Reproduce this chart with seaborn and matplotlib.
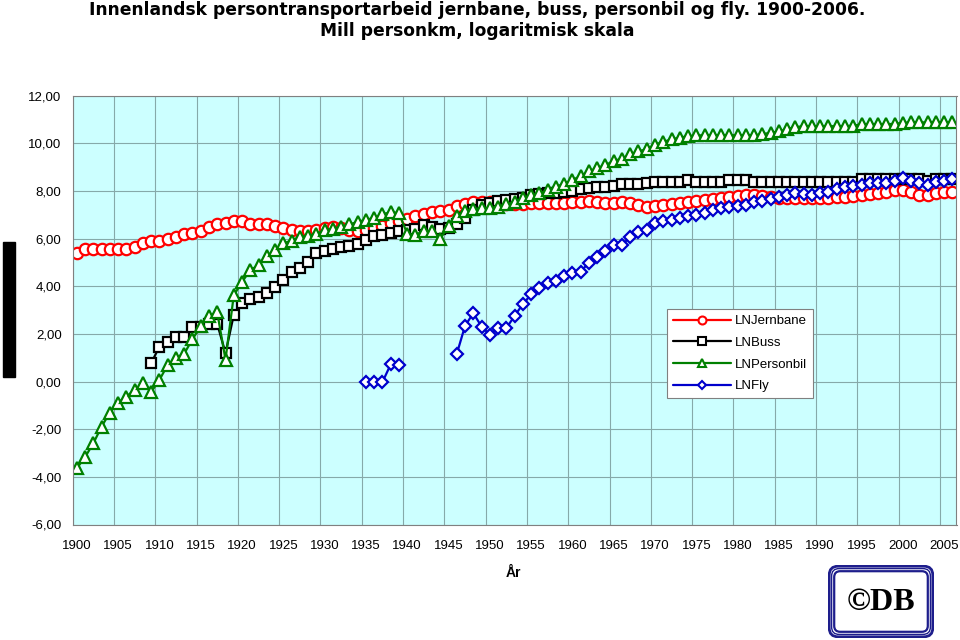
import numpy as np
import pandas as pd
import matplotlib
matplotlib.use("Agg")
import matplotlib.pyplot as plt
import seaborn as sns
from matplotlib.lines import Line2D
from matplotlib.patches import Rectangle, FancyBboxPatch

# ---------------- data (natural log of million passenger-km) ----------------
years = list(range(1900, 2007))

jernbane = [
    5.39, 5.56, 5.56, 5.56, 5.56, 5.56, 5.58, 5.66, 5.83, 5.89,   # 1900-1909
    5.90, 5.97, 6.08, 6.18, 6.25, 6.34, 6.50, 6.62, 6.64, 6.72,   # 1910-1919
    6.72, 6.63, 6.62, 6.62, 6.52, 6.45, 6.36, 6.34, 6.30, 6.36,   # 1920-1929
    6.44, 6.48, 6.45, 6.38, 6.33, 6.37, 6.45, 6.55, 6.64, 6.72,   # 1930-1939
    6.82, 6.95, 7.05, 7.10, 7.15, 7.22, 7.37, 7.45, 7.52, 7.55,   # 1940-1949
    7.52, 7.48, 7.45, 7.45, 7.47, 7.49, 7.49, 7.49, 7.49, 7.50,   # 1950-1959
    7.52, 7.55, 7.58, 7.55, 7.48, 7.50, 7.55, 7.48, 7.41, 7.34,   # 1960-1969
    7.37, 7.41, 7.45, 7.49, 7.53, 7.58, 7.62, 7.65, 7.70, 7.76,   # 1970-1979
    7.79, 7.83, 7.83, 7.79, 7.74, 7.72, 7.70, 7.70, 7.69, 7.69,   # 1980-1989
    7.69, 7.70, 7.74, 7.76, 7.80, 7.83, 7.87, 7.92, 7.97, 8.04,   # 1990-1999
    8.04, 7.97, 7.85, 7.83, 7.90, 7.97, 7.97,                     # 2000-2006
]

buss = [None] * 9 + [
    0.77,                                                         # 1909
    1.47, 1.66, 1.86, 1.86, 2.28, 2.29, 2.42, 2.42, 1.19, 2.80,   # 1910-1919
    3.30, 3.46, 3.57, 3.73, 3.99, 4.27, 4.60, 4.78, 5.04, 5.40,   # 1920-1929
    5.50, 5.56, 5.65, 5.68, 5.76, 5.95, 6.09, 6.16, 6.25, 6.32,   # 1930-1939
    6.35, 6.40, 6.58, 6.50, 6.40, 6.45, 6.60, 6.86, 7.20, 7.40,   # 1940-1949
    7.49, 7.60, 7.62, 7.65, 7.72, 7.85, 7.88, 7.90, 7.90, 7.95,   # 1950-1959
    8.00, 8.08, 8.11, 8.15, 8.18, 8.22, 8.28, 8.28, 8.28, 8.33,   # 1960-1969
    8.37, 8.37, 8.37, 8.37, 8.45, 8.37, 8.37, 8.37, 8.37, 8.47,   # 1970-1979
    8.47, 8.45, 8.37, 8.37, 8.37, 8.37, 8.37, 8.37, 8.37, 8.37,   # 1980-1989
    8.37, 8.37, 8.37, 8.37, 8.37, 8.50, 8.50, 8.50, 8.50, 8.50,   # 1990-1999
    8.50, 8.50, 8.50, 8.40, 8.50, 8.50, 8.50,                     # 2000-2006
]

personbil = [
    -3.64, -3.17, -2.59, -1.89, -1.30, -0.88, -0.63, -0.35, -0.08, -0.44,  # 1900-1909
    0.07, 0.70, 1.00, 1.17, 1.78, 2.32, 2.76, 2.90, 0.92, 3.62,            # 1910-1919
    4.18, 4.68, 4.88, 5.26, 5.52, 5.80, 5.92, 6.07, 6.12, 6.20,            # 1920-1929
    6.36, 6.42, 6.50, 6.60, 6.70, 6.80, 6.86, 7.03, 7.10, 7.08,            # 1930-1939
    6.20, 6.16, 6.32, 6.32, 6.00, 6.51, 6.97, 7.17, 7.24, 7.28,            # 1940-1949
    7.28, 7.34, 7.45, 7.55, 7.69, 7.83, 7.90, 8.04, 8.18, 8.30,            # 1950-1959
    8.47, 8.62, 8.82, 8.97, 9.08, 9.27, 9.35, 9.54, 9.67, 9.75,            # 1960-1969
    9.95, 10.06, 10.17, 10.24, 10.30, 10.33, 10.34, 10.34, 10.34, 10.34,   # 1970-1979
    10.34, 10.34, 10.34, 10.38, 10.45, 10.50, 10.60, 10.68, 10.72, 10.72,  # 1980-1989
    10.72, 10.72, 10.72, 10.72, 10.74, 10.80, 10.80, 10.80, 10.80, 10.82,  # 1990-1999
    10.86, 10.88, 10.88, 10.88, 10.88, 10.88, 10.88,                       # 2000-2006
]

fly = [None] * 35 + [
    0.00, 0.00, -0.02, 0.72, 0.70,                                # 1935-1939
] + [None] * 6 + [
    1.16, 2.34, 2.87, 2.31,                                       # 1946-1949
    1.96, 2.26, 2.24, 2.76, 3.25, 3.66, 3.92, 4.13, 4.22, 4.44,   # 1950-1959
    4.56, 4.62, 4.99, 5.25, 5.46, 5.74, 5.74, 6.07, 6.27, 6.38,   # 1960-1969
    6.65, 6.75, 6.80, 6.87, 6.93, 7.00, 7.07, 7.20, 7.28, 7.34,   # 1970-1979
    7.37, 7.41, 7.52, 7.60, 7.67, 7.75, 7.83, 7.90, 7.87, 7.85,   # 1980-1989
    7.90, 7.97, 8.07, 8.16, 8.21, 8.25, 8.32, 8.35, 8.35, 8.44,   # 1990-1999
    8.53, 8.44, 8.32, 8.25, 8.39, 8.44, 8.49,                     # 2000-2006
]

series_labels = ["LNJernbane", "LNBuss", "LNPersonbil", "LNFly"]
y_ticks = [-6, -4, -2, 0, 2, 4, 6, 8, 10, 12]
x_label_years = list(range(1900, 2006, 5))

title_line1 = "Innenlandsk persontransportarbeid jernbane, buss, personbil og fly. 1900-2006."
title_line2 = "Mill personkm, logaritmisk skala"
x_title = "År"

# ---------------- styling ----------------
styles = {
    "LNJernbane": dict(color="#FF0000", marker="o", ms=8.2),
    "LNBuss": dict(color="#000000", marker="s", ms=7.8),
    "LNPersonbil": dict(color="#008000", marker="^", ms=9.0),
    "LNFly": dict(color="#0000CC", marker="D", ms=6.4),
}

sns.set_style("white")
plt.rcParams["font.family"] = ["Liberation Sans", "DejaVu Sans"]
plt.rcParams["text.color"] = "black"
plt.rcParams["xtick.color"] = "black"
plt.rcParams["ytick.color"] = "black"
plt.rcParams["axes.labelcolor"] = "black"

W, H = 960, 640
fig = plt.figure(figsize=(W / 100, H / 100), dpi=100)
ax_l, ax_r, ax_t, ax_b = 72.7, 956.5, 95.7, 524.5
ax = fig.add_axes([ax_l / W, 1 - ax_b / H, (ax_r - ax_l) / W, (ax_b - ax_t) / H])
ax.set_facecolor("#CCFFFF")

all_series = {"LNJernbane": jernbane, "LNBuss": buss,
              "LNPersonbil": personbil, "LNFly": fly}

for name in series_labels:
    st = styles[name]
    df = pd.DataFrame({"year": years, "value": all_series[name]})
    df["value"] = pd.to_numeric(df["value"], errors="coerce")
    valid = df["value"].notna()
    seg_id = (~valid).cumsum()
    for _, part in df[valid].groupby(seg_id[valid]):
        sns.lineplot(data=part, x="year", y="value", ax=ax,
                     color=st["color"], marker=st["marker"],
                     markersize=st["ms"], markerfacecolor="white",
                     markeredgecolor=st["color"], markeredgewidth=1.6,
                     linewidth=1.6, estimator=None, sort=False,
                     legend=False)

# axes ranges and ticks
ax.set_xlim(1899.5, 2006.5)
ax.set_ylim(-6, 12)
ax.set_yticks(y_ticks)
ax.set_yticklabels([f"{v:.2f}".replace(".", ",") for v in y_ticks])
ax.set_xticks(np.arange(1899.5, 2006, 5))
ax.set_xticklabels([])
ax.set_xticks(x_label_years, minor=True)
ax.set_xticklabels([str(y) for y in x_label_years], minor=True)
ax.tick_params(axis="x", which="major", length=4, color="#808080", width=0.8)
ax.tick_params(axis="x", which="minor", length=0, pad=11, labelsize=9.5,
               labelcolor="black")
ax.tick_params(axis="y", which="major", length=4, color="#808080", width=0.8,
               pad=4, labelsize=9.5, labelcolor="black")
ax.set_xlabel("")
ax.set_ylabel("")
ax.grid(True, which="major", color="#86A9A9", linewidth=0.8)
ax.set_axisbelow(True)
for sp in ax.spines.values():
    sp.set_color("#808080")
    sp.set_linewidth(0.8)

# legend
handles = [Line2D([], [], color=styles[n]["color"], marker=styles[n]["marker"],
                  markersize=styles[n]["ms"] * 0.7, markerfacecolor="white",
                  markeredgecolor=styles[n]["color"], markeredgewidth=1.5,
                  linewidth=1.6) for n in series_labels]
leg = ax.legend(handles, series_labels, loc="upper left",
                bbox_to_anchor=((667 - ax_l) / (ax_r - ax_l), (ax_b - 309) / (ax_b - ax_t)),
                borderaxespad=0, frameon=True, fancybox=False, framealpha=1,
                edgecolor="#808080", facecolor="white", fontsize=9.5,
                handlelength=4.4, handletextpad=0.3, labelspacing=0.72,
                borderpad=0.45, labelcolor="black")
leg.get_frame().set_linewidth(0.8)

# titles
fig.text(0.497, 1 - 15 / H, title_line1, ha="center", va="baseline",
         fontsize=12.3, fontweight="bold", family=["DejaVu Sans"], color="black")
fig.text(0.497, 1 - 36 / H, title_line2, ha="center", va="baseline",
         fontsize=12.3, fontweight="bold", family=["DejaVu Sans"], color="black")
fig.text(513 / W, 1 - 573 / H, x_title, ha="center", va="center",
         fontsize=10, fontweight="bold", color="black")

# black bar at left edge
fig.add_artist(Rectangle((3 / W, 1 - 377 / H), 12 / W, 135 / H,
                         transform=fig.transFigure, color="black"))

# (c)DB logo
lx0, ly0, lw_, lh_ = 828, 565, 106, 73
lax = fig.add_axes([lx0 / W, 1 - (ly0 + lh_) / H, lw_ / W, lh_ / H])
lax.set_xlim(0, lw_)
lax.set_ylim(0, lh_)
lax.axis("off")
navy = "#1E1E8C"
for inset, lwid, rs in [(1.2, 2.0, 9), (3.6, 1.0, 7.5), (6.2, 1.6, 6)]:
    lax.add_patch(FancyBboxPatch((inset, inset), lw_ - 2 * inset, lh_ - 2 * inset,
                                 boxstyle=f"round,pad=0,rounding_size={rs}",
                                 fill=False, edgecolor=navy, linewidth=lwid))
lax.text(lw_ / 2, lh_ / 2 - 1.5, "©DB", ha="center", va="center",
         fontsize=23, fontweight="bold", family=["Liberation Serif", "DejaVu Serif"],
         color="black")

fig.savefig("out.png", dpi=100)
